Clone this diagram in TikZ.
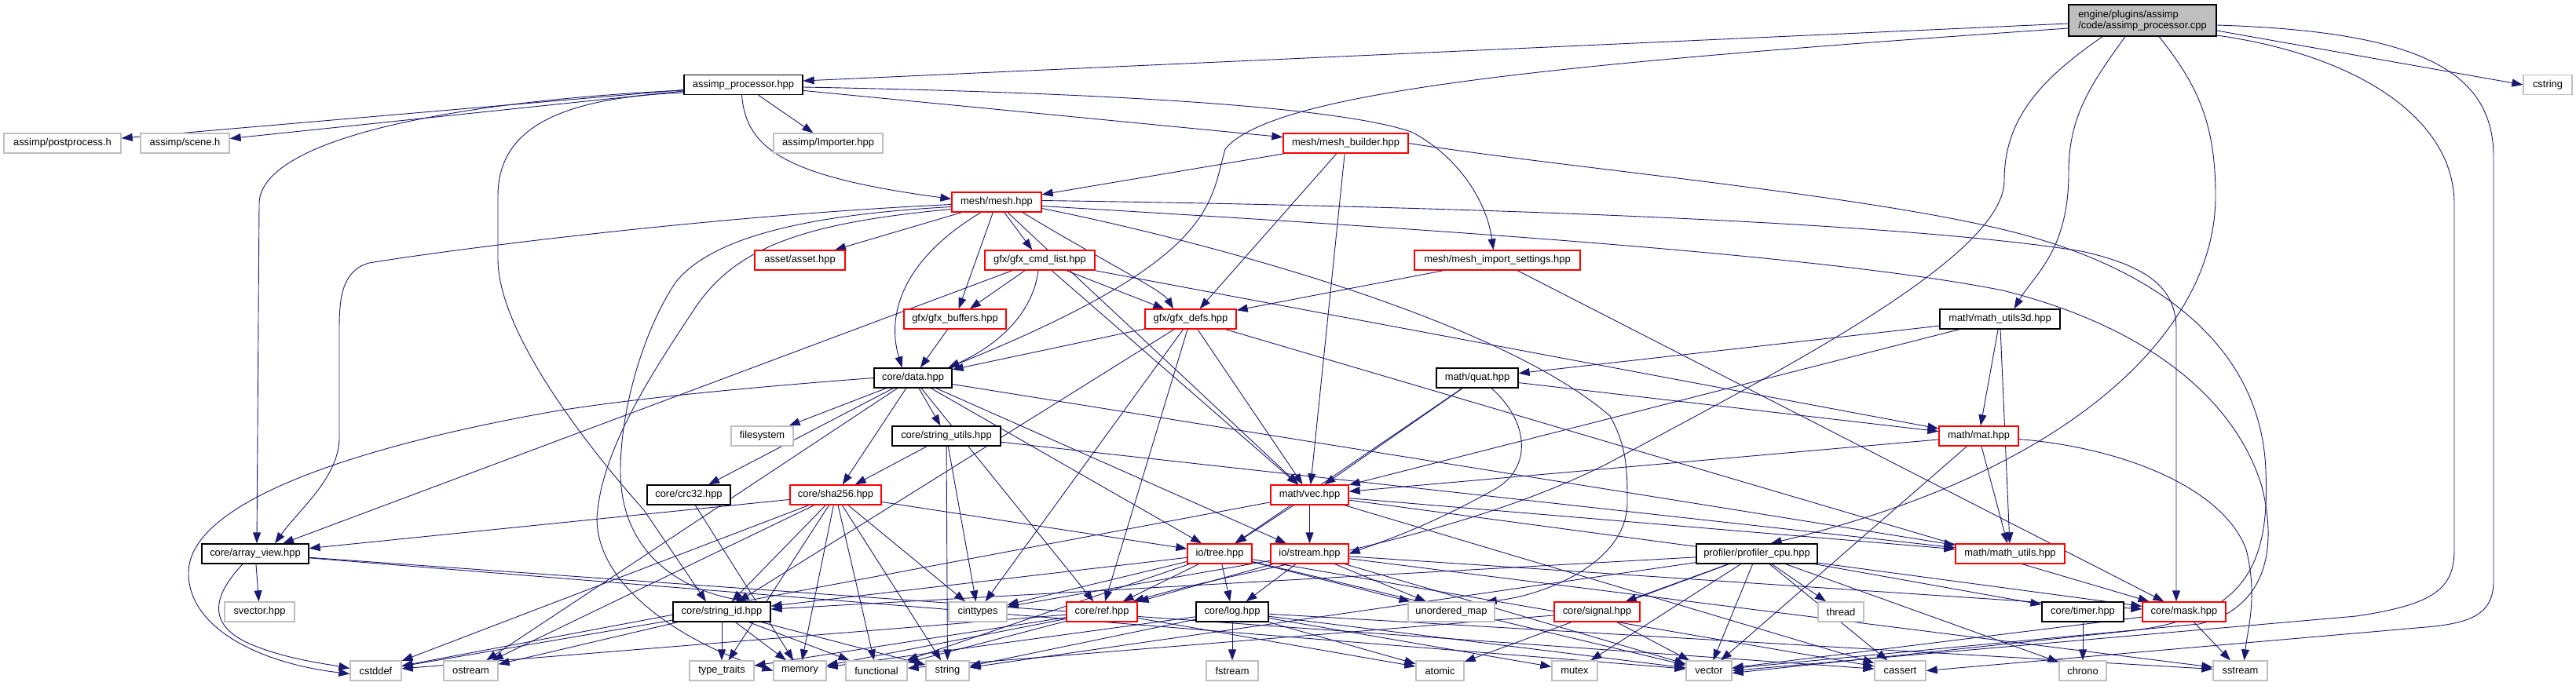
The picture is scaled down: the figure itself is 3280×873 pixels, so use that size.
\documentclass[tikz,border=0pt]{standalone}
\usepackage{fontspec}
\setmainfont{Liberation Sans}
\usetikzlibrary{arrows.meta,backgrounds}
\definecolor{edgec}{HTML}{191970}
\definecolor{grayb}{HTML}{BFBFBF}
\definecolor{redb}{HTML}{FF0000}
\tikzset{
  nb/.style={rectangle, fill=white, inner sep=0pt, minimum height=25pt, line width=1.3pt,
    font=\fontsize{12.9pt}{14.5pt}\selectfont},
  bk/.style={nb, draw=black},
  rd/.style={nb, draw=redb},
  gy/.style={nb, draw=grayb},
  e/.style={draw=edgec, line width=0.9pt, -{Triangle[length=14pt,width=10pt]}},
}
\begin{document}
\begin{tikzpicture}[x=1pt,y=-1pt]
\useasboundingbox (0,0) rectangle (3280,873);
% row 0
\node[nb, draw=black, fill=grayb, minimum width=188pt, minimum height=40pt, align=left] (root) at (2728,26) {engine/plugins/assimp\\/code/assimp\_processor.cpp};
% row 1
\node[bk, minimum width=151pt] (aph) at (946.5,108) {assimp\_processor.hpp};
\node[gy, minimum width=62pt] (cstring) at (3244,108) {cstring};
% row 2
\node[gy, minimum width=149pt] (postprocess) at (79.5,182.5) {assimp/postprocess.h};
\node[gy, minimum width=113pt] (scene) at (235.5,182.5) {assimp/scene.h};
\node[gy, minimum width=139pt] (importer) at (1054.5,182.5) {assimp/Importer.hpp};
\node[rd, minimum width=159pt] (builder) at (1713.5,182.5) {mesh/mesh\_builder.hpp};
% row 3
\node[rd, minimum width=114pt] (mesh) at (1269,257.5) {mesh/mesh.hpp};
% row 4
\node[rd, minimum width=115pt] (asset) at (1018.5,331.5) {asset/asset.hpp};
\node[rd, minimum width=140pt] (cmdlist) at (1324,331.5) {gfx/gfx\_cmd\_list.hpp};
\node[rd, minimum width=211pt] (settings) at (1906.5,331.5) {mesh/mesh\_import\_settings.hpp};
% row 5
\node[rd, minimum width=130pt] (buffers) at (1216,406.5) {gfx/gfx\_buffers.hpp};
\node[rd, minimum width=116pt] (gfxdefs) at (1516,406.5) {gfx/gfx\_defs.hpp};
\node[bk, minimum width=153pt] (mu3d) at (2546.5,406.5) {math/math\_utils3d.hpp};
% row 6
\node[bk, minimum width=99pt] (data) at (1162.5,481.5) {core/data.hpp};
\node[bk, minimum width=104pt] (quat) at (1881,481.5) {math/quat.hpp};
% row 7
\node[gy, minimum width=79pt] (filesystem) at (970.5,555.5) {filesystem};
\node[bk, minimum width=138pt] (stringutils) at (1205,555.5) {core/string\_utils.hpp};
\node[rd, minimum width=101pt] (mat) at (2519.5,555.5) {math/mat.hpp};
% row 8
\node[bk, minimum width=106pt] (crc32) at (877,630.5) {core/crc32.hpp};
\node[rd, minimum width=116pt] (sha256) at (1064,630.5) {core/sha256.hpp};
\node[rd, minimum width=99pt] (vec) at (1667.5,630.5) {math/vec.hpp};
% row 9
\node[bk, minimum width=136pt] (arrayview) at (325,705.5) {core/array\_view.hpp};
\node[rd, minimum width=82pt] (tree) at (1553,705.5) {io/tree.hpp};
\node[rd, minimum width=99pt] (stream) at (1667.5,705.5) {io/stream.hpp};
\node[rd, minimum width=139pt] (mathutils) at (2559.5,705.5) {math/math\_utils.hpp};
\node[bk, minimum width=154pt] (profiler) at (2237,705.5) {profiler/profiler\_cpu.hpp};
% row 10
\node[gy, minimum width=89pt] (svector) at (330.5,779.5) {svector.hpp};
\node[bk, minimum width=124pt] (stringid) at (919,779.5) {core/string\_id.hpp};
\node[gy, minimum width=74pt] (cinttypes) at (1245,779.5) {cinttypes};
\node[rd, minimum width=90pt] (ref) at (1403,779.5) {core/ref.hpp};
\node[bk, minimum width=92pt] (log) at (1569,779.5) {core/log.hpp};
\node[gy, minimum width=110pt] (unorderedmap) at (1848,779.5) {unordered\_map};
\node[rd, minimum width=109pt] (signal) at (2033.5,779.5) {core/signal.hpp};
\node[gy, minimum width=58pt] (thread) at (2344,779.5) {thread};
\node[bk, minimum width=104pt] (timer) at (2652,779.5) {core/timer.hpp};
\node[rd, minimum width=106pt] (mask) at (2781,779.5) {core/mask.hpp};
% row 11
\node[gy, minimum width=65pt] (cstddef) at (478.5,854.5) {cstddef};
\node[gy, minimum width=69pt] (ostream) at (599.5,854.5) {ostream};
\node[gy, minimum width=82pt] (typetraits) at (919,854.5) {type\_traits};
\node[gy, minimum width=67pt] (memory) at (1018.5,854.5) {memory};
\node[gy, minimum width=78pt] (functional) at (1116,854.5) {functional};
\node[gy, minimum width=55pt] (string) at (1206.5,854.5) {string};
\node[gy, minimum width=66pt] (fstream) at (1569,854.5) {fstream};
\node[gy, minimum width=61pt] (atomic) at (1833.5,854.5) {atomic};
\node[gy, minimum width=58pt] (mutex) at (2005,854.5) {mutex};
\node[gy, minimum width=58pt] (vector) at (2176,854.5) {vector};
\node[gy, minimum width=65pt] (cassert) at (2419.5,854.5) {cassert};
\node[gy, minimum width=60pt] (chrono) at (2652,854.5) {chrono};
\node[gy, minimum width=69pt] (sstream) at (2852.5,854.5) {sstream};

\begin{pgfonlayer}{background}
% curved connectors
\draw[e] ([yshift=-4pt]root.west) -- ([yshift=5pt]aph.east);
\draw[e] ([yshift=-13pt]root.east) -- (cstring.west);
\draw[e] ([yshift=-10pt]root.west) .. controls (2000,80) and (1620,115) .. (1560,190)
   .. controls (1540,260) and (1550,330) .. ([xshift=-5pt]data.north east);
\draw[e] ([xshift=-22pt]root.south) .. controls (2660,110) and (2634,150) .. (2634,220)
   .. controls (2634,320) and (2590,350) .. ([xshift=18pt]mu3d.north);
\draw[e] ([xshift=21pt]root.south) .. controls (2800,110) and (2821,160) .. (2821,250)
   .. controls (2821,420) and (2640,600) .. ([xshift=-60pt]profiler.north east);
\draw[e] ([xshift=-51pt]root.south) .. controls (2600,100) and (2552,150) .. (2552,230)
   .. controls (2552,330) and (2250,480) .. (2048,590) .. controls (1850,690) and (1600,720) .. ([xshift=-6pt]ref.north east);
\draw[e] ([yshift=-6pt]root.east) .. controls (3080,40) and (3175,90) .. (3175,200) -- (3175,740)
   .. controls (3175,780) and (3150,792) .. (3100,798) -- (cassert.east);
\draw[e] ([yshift=-19pt]root.east) .. controls (3000,70) and (3125,150) .. (3125,260) -- (3125,700)
   .. controls (3125,750) and (3100,770) .. (3000,785) -- (vector.east);
\draw[e] ([yshift=-7pt]aph.west) .. controls (560,130) and (330,180) .. (330,260) -- ([xshift=2pt]arrayview.north);
\draw[e] ([yshift=-10pt]aph.west) .. controls (700,125) and (634,170) .. (634,250) -- (634,330)
   .. controls (634,420) and (740,560) .. (820,650) -- ([xshift=-20pt]stringid.north);
\draw[e] ([xshift=-2pt]aph.south) .. controls (950,190) and (1000,225) .. ([yshift=4pt]mesh.west);
\draw[e] ([yshift=-3pt]aph.east) .. controls (1400,118) and (1700,135) .. (1797,168)
   .. controls (1850,195) and (1892,250) .. ([xshift=-5pt]settings.north);
% builder curves
\draw[e] (builder.east) .. controls (2000,215) and (2400,250) .. (2580,300)
   .. controls (2760,350) and (2880,450) .. (2885,600) .. controls (2890,720) and (2860,790) .. (2700,805) -- ([yshift=-3pt]vector.east);
% mesh curves
\draw[e] ([xshift=-20pt]mesh.south) .. controls (1150,330) and (1128,400) .. ([xshift=-14pt]data.north);
\draw[e] ([xshift=33pt]mesh.south) .. controls (1400,330) and (1480,370) .. ([xshift=-22pt]gfxdefs.north);
\draw[e] ([yshift=-3pt]mesh.west) .. controls (900,275) and (560,320) .. (470,335)
   .. controls (435,345) and (432,380) .. (432,420) -- (432,560) .. controls (430,610) and (380,650) .. ([xshift=25pt]arrayview.north);
\draw[e] ([yshift=-6pt]mesh.west) .. controls (1000,275) and (900,310) .. (860,360)
   .. controls (820,420) and (790,520) .. (790,600) .. controls (790,700) and (860,750) .. ([xshift=-30pt]stringid.north east);
\draw[e] ([yshift=-9pt]mesh.west) .. controls (1010,285) and (930,320) .. (880,400)
   .. controls (820,490) and (765,580) .. (760,660) .. controls (760,760) and (900,830) .. (memory.west);
\draw[e] ([yshift=-8pt]mesh.east) .. controls (1500,300) and (1900,400) .. (2050,530)
   .. controls (2072,570) and (2072,600) .. (2072,640) .. controls (2072,720) and (1960,760) .. ([xshift=-12pt]unorderedmap.north east);
\draw[e] ([yshift=2pt]mesh.east) .. controls (1800,262) and (2400,280) .. (2650,320)
   .. controls (2740,340) and (2771,370) .. (2771,420) -- ([xshift=-10pt]mask.north);
\draw[e] ([yshift=-5pt]mesh.east) .. controls (1700,285) and (2300,320) .. (2550,370)
   .. controls (2750,420) and (2850,520) .. (2880,620) .. controls (2905,720) and (2870,780) .. (2800,795) -- ([yshift=3pt]vector.east);
\draw[e] ([xshift=-2pt]cmdlist.south) .. controls (1315,400) and (1270,440) .. ([xshift=45pt]data.north);
% other curves
\draw[e] (data.west) .. controls (1000,490) and (820,505) .. (700,525) .. controls (450,570) and (240,640) .. (240,730)
   .. controls (240,800) and (330,845) .. ([yshift=-4pt]cstddef.west);
\draw[e] ([xshift=-16pt]arrayview.south) .. controls (270,760) and (260,800) .. (330,825) .. controls (370,840) and (410,845) .. ([yshift=3pt]cstddef.west);
\draw[e] ([yshift=-4pt]mat.east) .. controls (2700,570) and (2830,620) .. (2860,700) .. controls (2875,760) and (2862,800) .. ([xshift=5pt]sstream.north);
\draw[e] ([xshift=18pt]quat.south) .. controls (1950,540) and (1950,600) .. (1900,625) .. controls (1820,670) and (1760,690) .. (stream.east);
% straight connectors
\foreach \s/\t in {aph/postprocess, aph/scene, aph/importer, aph/builder,
  builder/mesh, builder/gfxdefs, builder/vec,
  mesh/asset, mesh/cmdlist, mesh/buffers, mesh/vec,
  cmdlist/buffers, cmdlist/gfxdefs, cmdlist/arrayview, cmdlist/vec, cmdlist/mat,
  buffers/data,
  gfxdefs/data, gfxdefs/stringid, gfxdefs/cinttypes, gfxdefs/ref, gfxdefs/vec, gfxdefs/mask,
  settings/gfxdefs, settings/mask,
  mu3d/quat, mu3d/mat, mu3d/mathutils, mu3d/vec,
  quat/vec, quat/tree, quat/mat,
  data/filesystem, data/stringutils, data/crc32, data/sha256, data/ref, data/tree, data/stream,
  data/mathutils, data/ostream,
  stringutils/sha256, stringutils/cinttypes, stringutils/string, stringutils/mathutils,
  crc32/memory,
  sha256/arrayview, sha256/stringid, sha256/cstddef, sha256/ostream, sha256/memory,
  sha256/functional, sha256/string, sha256/cinttypes, sha256/tree, sha256/typetraits,
  arrayview/svector, arrayview/vector, arrayview/cassert,
  stringid/typetraits, stringid/memory, stringid/functional, stringid/string, stringid/ostream, stringid/cstddef,
  tree/cinttypes, tree/ref, tree/log, tree/unorderedmap, tree/stringid, tree/functional, tree/vector, tree/cassert,
  stream/cinttypes, stream/ref, stream/log, stream/unorderedmap, stream/vector, stream/sstream, stream/mask,
  vec/tree, vec/stream, vec/mathutils, vec/mask, vec/cstddef, vec/cassert,
  mat/vec, mat/mathutils, mat/vector,
  ref/typetraits, ref/memory, ref/functional, ref/cstddef, ref/atomic,
  log/string, log/fstream, log/memory, log/mutex, log/vector, log/sstream, log/atomic,
  profiler/stringid, profiler/signal, profiler/thread, profiler/vector, profiler/atomic,
  profiler/mutex, profiler/cassert, profiler/timer, profiler/chrono, profiler/string,
  signal/vector, signal/functional,
  timer/chrono,
  mask/vector, mask/sstream}
  \draw[e] (\s) -- (\t);
\end{pgfonlayer}
\end{tikzpicture}
\end{document}
